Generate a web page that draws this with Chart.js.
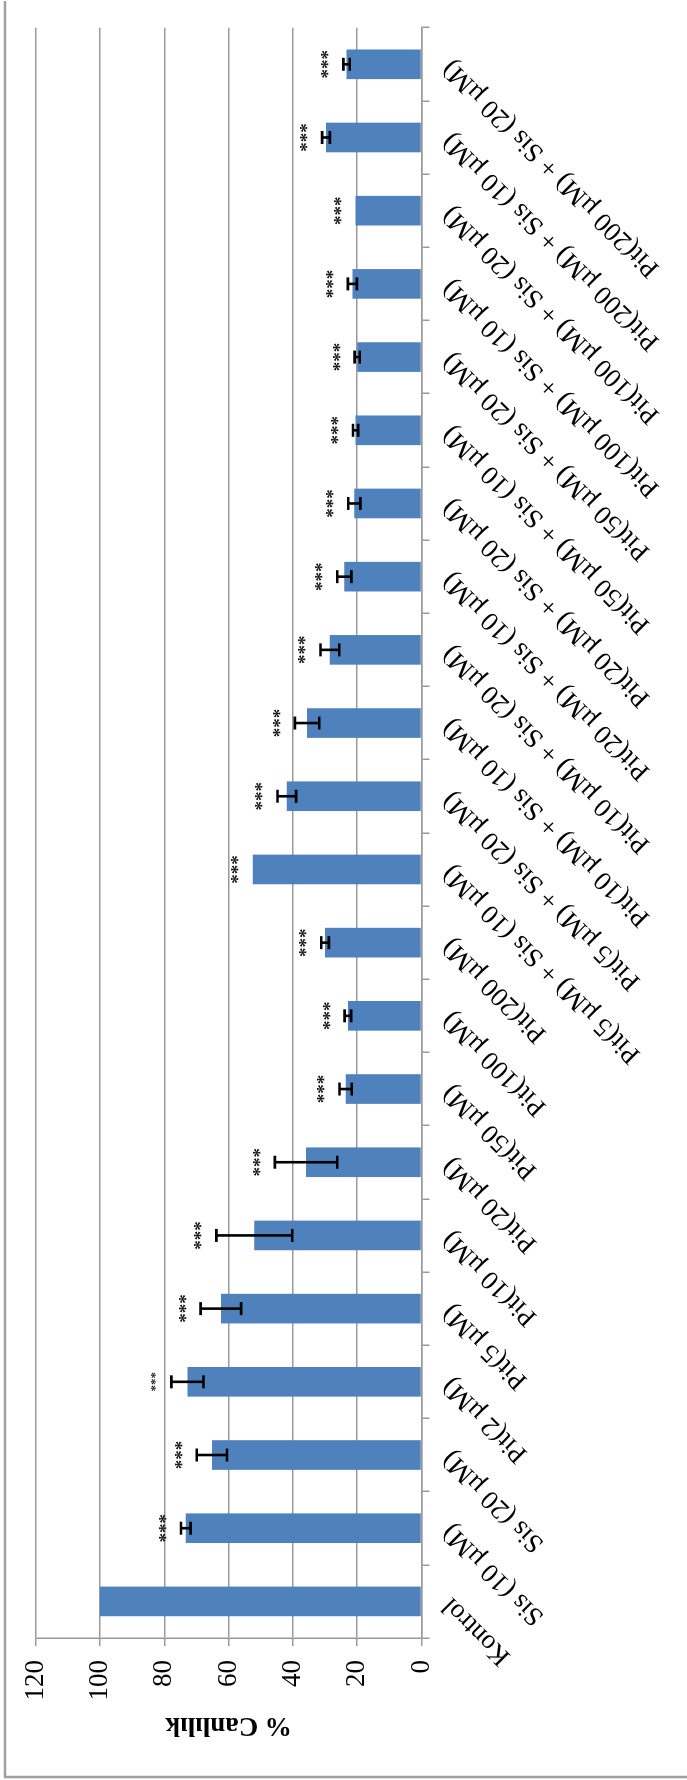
<!DOCTYPE html>
<html>
<head>
<meta charset="utf-8">
<script src="https://cdn.jsdelivr.net/npm/chart.js@4"></script>
<style>
  html, body { margin: 0; padding: 0; background: #fff; overflow: hidden; }
  /* the chart is laid out landscape and turned a quarter turn */
  #wrap {
    position: absolute; left: 0; top: 0;
    width: 1780px; height: 687px;
    transform-origin: 0 0;
    transform: translate(0, 1780px) rotate(-90deg);
  }
</style>
</head>
<body>
<div id="wrap"><canvas id="bars" width="1780" height="687"></canvas></div>
<script>
const groups = [
  "Kontrol", "Sis (10 µM)", "Sis (20 µM)", "Pit(2 µM)", "Pit(5 µM)",
  "Pit(10 µM)", "Pit(20 µM)", "Pit(50 µM)", "Pit(100 µM)", "Pit(200 µM)",
  "Pit(5 µM) + Sis (10 µM)", "Pit(5 µM) + Sis (20 µM)",
  "Pit(10 µM) + Sis (10 µM)", "Pit(10 µM) + Sis (20 µM)",
  "Pit(20 µM) + Sis (10 µM)", "Pit(20 µM) + Sis (20 µM)",
  "Pit(50 µM) + Sis (10 µM)", "Pit(50 µM) + Sis (20 µM)",
  "Pit(100 µM) + Sis (10 µM)", "Pit(100 µM) + Sis (20 µM)",
  "Pit(200 µM) + Sis (10 µM)", "Pit(200 µM) + Sis (20 µM)"
];
const viability = [100, 73.3, 65.2, 72.8, 62.4, 52.0, 35.9, 23.6, 22.9, 30.0,
  52.5, 41.9, 35.6, 28.5, 24.0, 20.9, 20.5, 20.0, 21.5, 20.5, 29.7, 23.3];
const sd = [0, 1.5, 4.7, 5.0, 6.3, 11.8, 9.7, 1.9, 1.0, 1.2,
  0, 2.9, 3.8, 2.9, 2.2, 1.9, 0.8, 0.8, 1.4, 0, 1.2, 1.0];
const stars = ["", "***", "***", "***", "***", "***", "***", "***", "***", "***",
  "***", "***", "***", "***", "***", "***", "***", "***", "***", "***", "***", "***"];
const yTicks = [0, 20, 40, 60, 80, 100, 120];

const serif = "'Liberation Serif', 'Times New Roman', serif";
const gray = "#9a9a9a";

const frame = {
  id: "frame",
  beforeDraw(chart) {
    const c = chart.ctx;
    c.save();
    c.fillStyle = "#fff";
    c.fillRect(0, 0, chart.width, chart.height);
    c.strokeStyle = "#a0a0a0";
    c.lineWidth = 2.5;
    c.beginPath();
    c.moveTo(3, 700); c.lineTo(3, 5); c.lineTo(1779, 5);
    c.stroke();
    c.restore();
  }
};

// error bars and significance stars on top of each bar
const errorBars = {
  id: "errorBars",
  afterDatasetsDraw(chart) {
    const c = chart.ctx;
    const y = chart.scales.y;
    const meta = chart.getDatasetMeta(0);
    c.save();
    c.strokeStyle = "#000";
    c.lineWidth = 2.6;
    meta.data.forEach((bar, i) => {
      const v = viability[i], e = sd[i];
      if (e > 0) {
        const hi = y.getPixelForValue(v + e), lo = y.getPixelForValue(v - e);
        c.beginPath();
        c.moveTo(bar.x, hi); c.lineTo(bar.x, lo);
        c.moveTo(bar.x - 6.5, hi); c.lineTo(bar.x + 6.5, hi);
        c.moveTo(bar.x - 6.5, lo); c.lineTo(bar.x + 6.5, lo);
        c.stroke();
      }
      if (stars[i]) {
        const size = i === 3 ? 13 : 19;
        c.font = "bold " + size + "px " + serif;
        c.fillStyle = "#1a1a1a";
        c.textAlign = "center";
        c.textBaseline = "alphabetic";
        const top = y.getPixelForValue(v + e);
        c.fillText(stars[i], bar.x, top - 18 + size * 0.47);
      }
    });
    c.restore();
  }
};

new Chart(document.getElementById("bars"), {
  type: "bar",
  data: {
    labels: groups,
    datasets: [{
      label: "% Canlılık",
      data: viability,
      backgroundColor: "#4f81bd",
      borderWidth: 0,
      categoryPercentage: 0.405,
      barPercentage: 1
    }]
  },
  options: {
    responsive: false,
    animation: false,
    devicePixelRatio: 1,
    layout: { padding: { left: 0, top: 35.7, right: 27.7, bottom: 0 } },
    plugins: { legend: { display: false }, tooltip: { enabled: false } },
    scales: {
      x: {
        grid: { drawOnChartArea: false, color: gray, tickLength: 8, lineWidth: 1.5 },
        border: { color: gray, width: 1.5 },
        ticks: {
          autoSkip: false, minRotation: 45, maxRotation: 45,
          color: "#000", padding: 6,
          font: { family: serif, size: 27 }
        },
        afterFit(scale) { scale.height = 265.5; }
      },
      y: {
        min: 0, max: 120,
        afterBuildTicks(scale) { scale.ticks = yTicks.map(v => ({ value: v })); },
        grid: { color: gray, tickLength: 8, lineWidth: 1.5 },
        border: { color: gray, width: 1.5 },
        ticks: { color: "#000", padding: 14, font: { family: serif, size: 27 } },
        title: {
          display: true, text: "% Canlılık", color: "#000",
          font: { family: serif, size: 27, weight: "bold" },
          padding: { top: 39, bottom: 0 }
        },
        afterFit(scale) { scale.width = 142; }
      }
    }
  },
  plugins: [frame, errorBars]
});
</script>
</body>
</html>
